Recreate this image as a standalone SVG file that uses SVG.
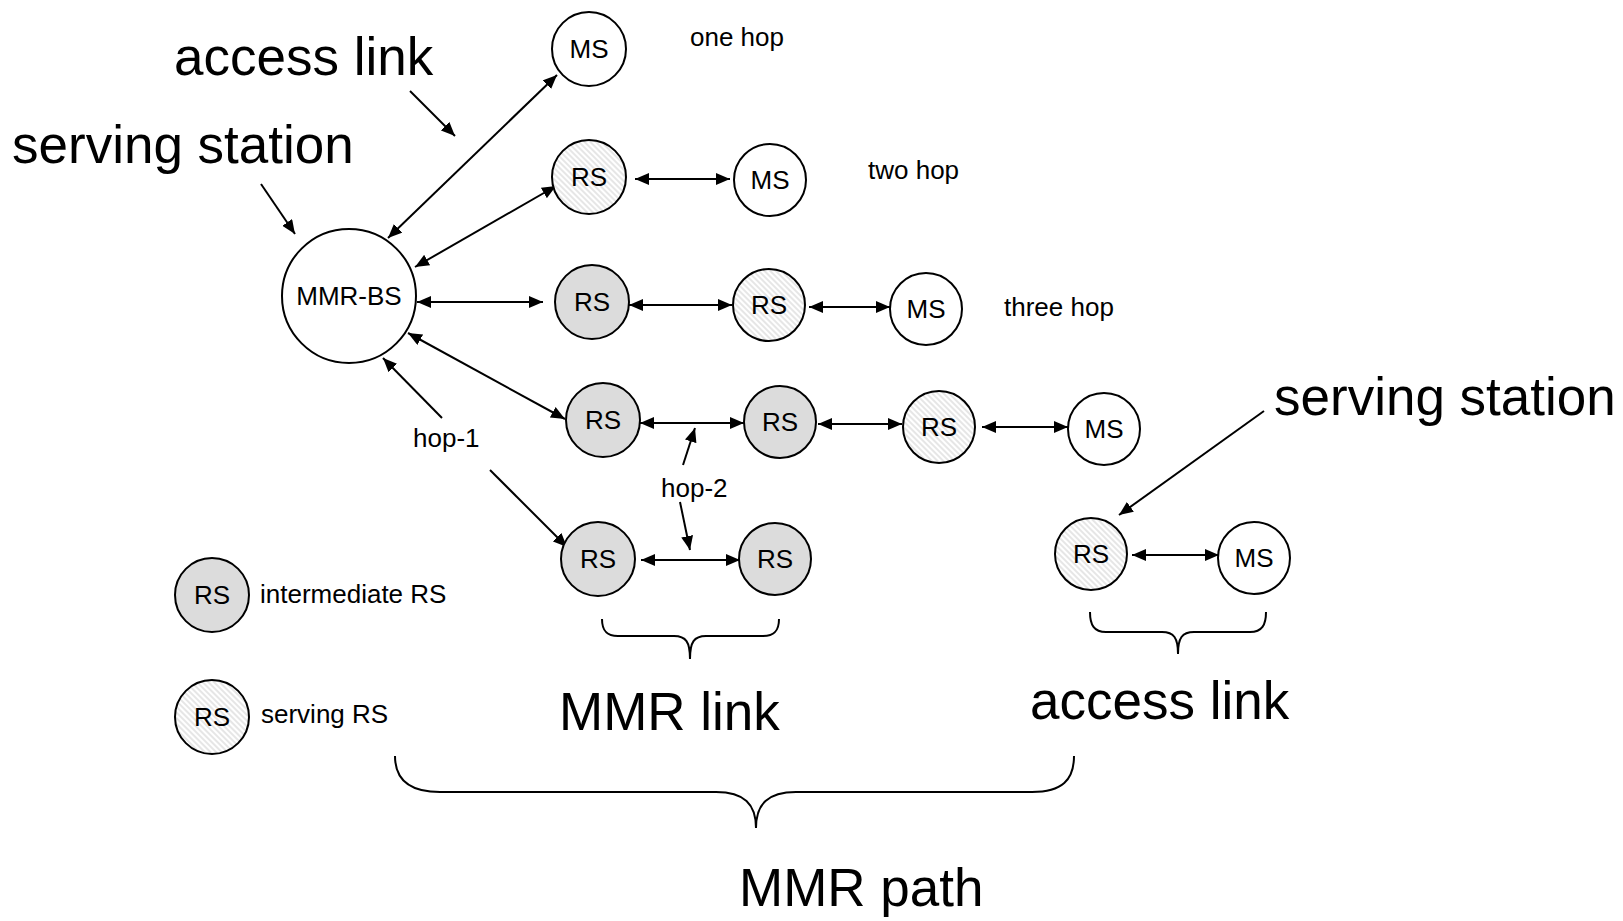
<svg xmlns="http://www.w3.org/2000/svg" width="1623" height="921" viewBox="0 0 1623 921">
<style>
  .node { stroke:#000; stroke-width:2; }
  .plain { fill:#fff; }
  .inter { fill:#dcdcdc; }
  .serv { fill:url(#hatch); }
  .nl { font-family:"Liberation Sans", Arial, sans-serif; font-size:26px; fill:#000; text-anchor:middle; }
  .sm { font-family:"Liberation Sans", Arial, sans-serif; font-size:26px; fill:#000; }
  .big { font-family:"Liberation Sans", Arial, sans-serif; font-size:53px; fill:#000; }
  .ln { stroke:#000; stroke-width:2; fill:none; }
  .dbl { marker-start:url(#ah); marker-end:url(#ah); }
  .one { marker-end:url(#ah); }
  .brace { stroke:#000; stroke-width:2; fill:none; }
</style>
<defs>
  <pattern id="hatch" patternUnits="userSpaceOnUse" width="4" height="4" patternTransform="rotate(-45)">
    <rect width="4" height="4" fill="#fff"/>
    <line x1="1" y1="0" x2="1" y2="4" stroke="#d6d6d6" stroke-width="1.2"/>
  </pattern>
  <marker id="ah" viewBox="0 0 14 12" refX="14" refY="6" markerWidth="14" markerHeight="12" markerUnits="userSpaceOnUse" orient="auto-start-reverse">
    <path d="M0,0 L14,6 L0,12 z" fill="#000"/>
  </marker>
</defs>
<rect width="1623" height="921" fill="#fff"/>

<g id="connectors">
  <line class="ln dbl" x1="388" y1="238" x2="557" y2="75"/>
  <line class="ln dbl" x1="415" y1="267" x2="556" y2="186"/>
  <line class="ln dbl" x1="417" y1="302" x2="543" y2="302"/>
  <line class="ln dbl" x1="408" y1="333" x2="565" y2="419"/>
  <line class="ln dbl" x1="635" y1="179" x2="730" y2="179"/>
  <line class="ln dbl" x1="629" y1="305" x2="732" y2="305"/>
  <line class="ln dbl" x1="809" y1="307" x2="890" y2="307"/>
  <line class="ln dbl" x1="640" y1="423" x2="744" y2="423"/>
  <line class="ln dbl" x1="818" y1="424" x2="902" y2="424"/>
  <line class="ln dbl" x1="982" y1="427" x2="1068" y2="427"/>
  <line class="ln dbl" x1="641" y1="560" x2="740" y2="560"/>
  <line class="ln dbl" x1="1132" y1="555" x2="1219" y2="555"/>
  <line class="ln one" x1="410" y1="91" x2="455" y2="136"/>
  <line class="ln one" x1="261" y1="184" x2="295" y2="234"/>
  <line class="ln one" x1="442" y1="418" x2="383" y2="358"/>
  <line class="ln one" x1="490" y1="470" x2="567" y2="547"/>
  <line class="ln one" x1="683" y1="465" x2="695" y2="428"/>
  <line class="ln one" x1="680" y1="502" x2="690" y2="550"/>
  <line class="ln one" x1="1264" y1="411" x2="1119" y2="515"/>
</g>

<g id="mmr-bs"><circle class="node plain" cx="349" cy="296" r="67"/><text class="nl" x="349" y="305">MMR-BS</text></g>
<g id="ms1"><circle class="node plain" cx="589" cy="49" r="37"/><text class="nl" x="589" y="58">MS</text></g>
<g id="rs2"><circle class="node serv" cx="589" cy="177" r="37"/><text class="nl" x="589" y="186">RS</text></g>
<g id="ms2"><circle class="node plain" cx="770" cy="180" r="36"/><text class="nl" x="770" y="189">MS</text></g>
<g id="rs3a"><circle class="node inter" cx="592" cy="302" r="37"/><text class="nl" x="592" y="311">RS</text></g>
<g id="rs3b"><circle class="node serv" cx="769" cy="305" r="36"/><text class="nl" x="769" y="314">RS</text></g>
<g id="ms3"><circle class="node plain" cx="926" cy="309" r="36"/><text class="nl" x="926" y="318">MS</text></g>
<g id="rs4a"><circle class="node inter" cx="603" cy="420" r="37"/><text class="nl" x="603" y="429">RS</text></g>
<g id="rs4b"><circle class="node inter" cx="780" cy="422" r="36"/><text class="nl" x="780" y="431">RS</text></g>
<g id="rs4c"><circle class="node serv" cx="939" cy="427" r="36"/><text class="nl" x="939" y="436">RS</text></g>
<g id="ms4"><circle class="node plain" cx="1104" cy="429" r="36"/><text class="nl" x="1104" y="438">MS</text></g>
<g id="rs5a"><circle class="node inter" cx="598" cy="559" r="37"/><text class="nl" x="598" y="568">RS</text></g>
<g id="rs5b"><circle class="node inter" cx="775" cy="559" r="36"/><text class="nl" x="775" y="568">RS</text></g>
<g id="rs-right"><circle class="node serv" cx="1091" cy="554" r="36"/><text class="nl" x="1091" y="563">RS</text></g>
<g id="ms-right"><circle class="node plain" cx="1254" cy="558" r="36"/><text class="nl" x="1254" y="567">MS</text></g>
<g id="legend-inter"><circle class="node inter" cx="212" cy="595" r="37"/><text class="nl" x="212" y="604">RS</text><text class="sm" x="260" y="603">intermediate RS</text></g>
<g id="legend-serv"><circle class="node serv" cx="212" cy="717" r="37"/><text class="nl" x="212" y="726">RS</text><text class="sm" x="261" y="723">serving RS</text></g>

<g id="labels">
  <text class="big" x="174" y="75">access link</text>
  <text class="big" x="12" y="163">serving station</text>
  <text class="big" x="1274" y="415">serving station</text>
  <text class="big" x="559" y="730">MMR link</text>
  <text class="big" x="1030" y="719">access link</text>
  <text class="big" x="739" y="906">MMR path</text>
  <text class="sm" x="690" y="46">one hop</text>
  <text class="sm" x="868" y="179">two hop</text>
  <text class="sm" x="1004" y="316">three hop</text>
  <text class="sm" x="413" y="447">hop-1</text>
  <text class="sm" x="661" y="497">hop-2</text>
</g>

<g id="braces">
  <path class="brace" d="M602,619 C602,630 606,636 618,636 L674,636 C686,636 690,642 690,659 C690,642 694,636 706,636 L763,636 C775,636 779,630 779,619"/>
  <path class="brace" d="M1090,612 C1090,625 1094,632 1106,632 L1162,632 C1174,632 1178,638 1178,654 C1178,638 1182,632 1194,632 L1250,632 C1262,632 1266,625 1266,612"/>
  <path class="brace" d="M395,756 C395,780 410,792 440,792 L716,792 C744,792 756,804 756,828 C756,804 768,792 796,792 L1032,792 C1062,792 1074,780 1074,756"/>
</g>
</svg>
